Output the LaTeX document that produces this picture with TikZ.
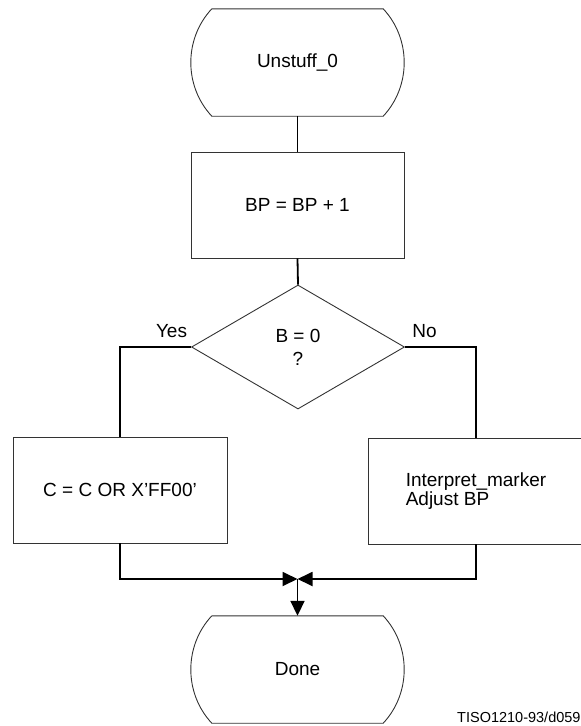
\documentclass[tikz,border=0pt]{standalone}
\usepackage{fontspec}
\setmainfont{Liberation Sans}
\usetikzlibrary{shapes.geometric,arrows.meta,calc}
\tikzset{
  shapeline/.style={draw=black!80, line width=0.9pt},
  txt/.style={font=\fontsize{19}{19}\selectfont, inner sep=0pt},
  termbox/.style={txt, minimum width=171pt, minimum height=107pt},
  procbox/.style={txt, shapeline, rectangle, minimum height=106pt},
  decbox/.style={txt, shapeline, diamond, aspect=1.72, minimum width=213pt, minimum height=124pt, align=center},
  conn/.style={black, line width=1.8pt},
  tip/.style={-{Triangle[length=15pt,width=14pt]}},
  lbl/.style={txt}
}
\newcommand{\termoutline}[1]{%
  \draw[shapeline] (#1.north west) -- (#1.north east)
    .. controls +(28,30) and +(28,-30) .. (#1.south east)
    -- (#1.south west)
    .. controls +(-28,-30) and +(-28,30) .. (#1.north west);}
\begin{document}
\begin{tikzpicture}[x=1pt,y=-1pt]
\useasboundingbox (0,0) rectangle (581,726);
\node[termbox] (u) at (297.5,62.5) {Unstuff\_0};
\termoutline{u}
\node[procbox, minimum width=213pt] (bp) at (297.5,205) {BP = BP + 1};
\node[decbox] (d) at (298,347) {B = 0\\[4pt]?};
\node[procbox, minimum width=214pt] (l) at (120,490) {C = C OR X’FF00’};
\node[procbox, minimum width=216pt, align=left] (r) at (476,491) {Interpret\_marker\\Adjust BP};
\node[termbox] (dn) at (297.5,669.5) {Done};
\termoutline{dn}
\coordinate (m) at (297.5,579);
\node[lbl] (yes) at (171.5,331) {Yes};
\node[lbl] (no) at (424.5,331) {No};
\node[font=\fontsize{14.5}{14.5}\selectfont, inner sep=0pt, anchor=west] (id) at (457,717) {TISO1210-93/d059};
\draw[conn] (u.south) -- (bp.north);
\draw[conn] (bp.south) -- (d.north);
\draw[conn] (d.west) -| (l.north);
\draw[conn] (d.east) -| (r.north);
\draw[conn, tip] (l.south) |- (m);
\draw[conn, tip] (r.south) |- (m);
\draw[conn, tip] (m) -- (dn.north);
\end{tikzpicture}
\end{document}
